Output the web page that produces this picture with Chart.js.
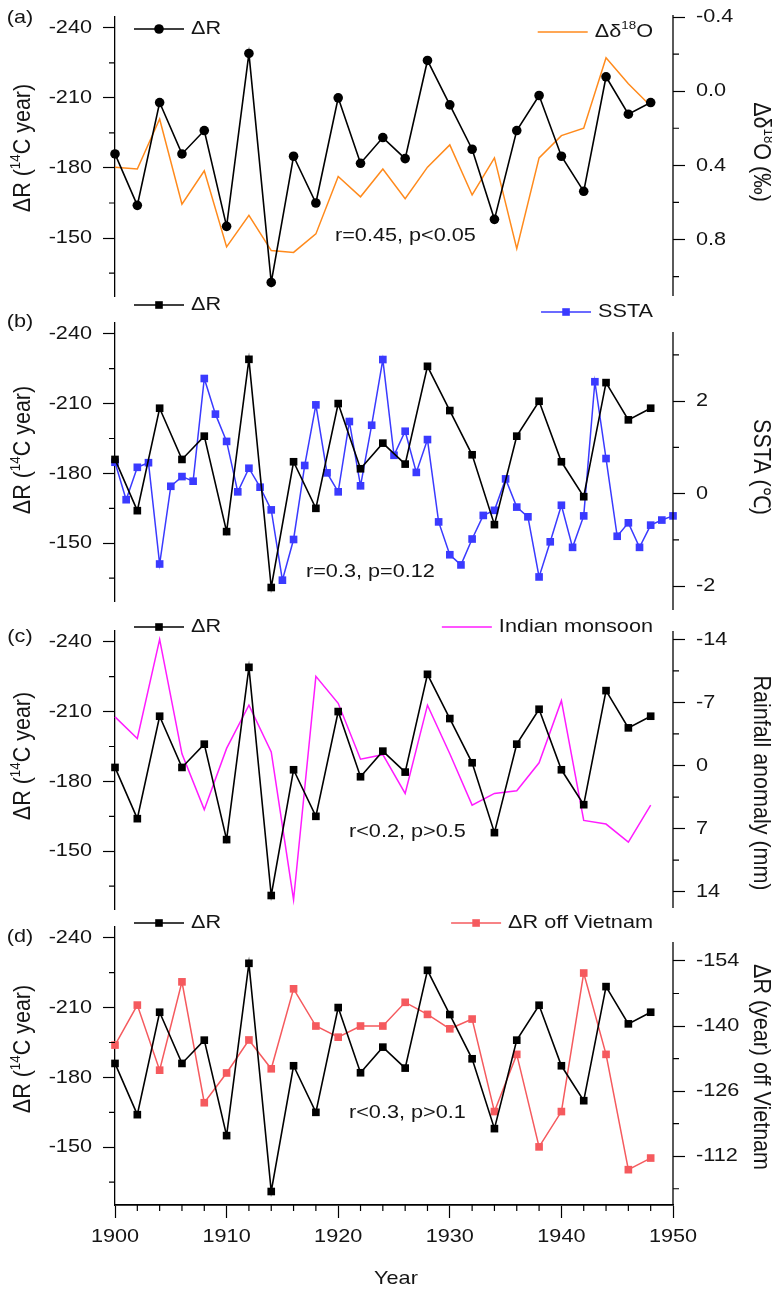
<!DOCTYPE html>
<html>
<head>
<meta charset="utf-8">
<script src="https://cdn.jsdelivr.net/npm/chart.js@4.4.1/dist/chart.umd.min.js"></script>
<style>
  html, body { margin: 0; padding: 0; background: #fff; }
  #wrap { position: relative; width: 772px; height: 1292px; }
  #wrap canvas { position: absolute; left: 0; top: 0; }
</style>
</head>
<body>
<div id="wrap">
  <canvas id="pa" width="772" height="1292"></canvas>
  <canvas id="pb" width="772" height="1292"></canvas>
  <canvas id="pc" width="772" height="1292"></canvas>
  <canvas id="pd" width="772" height="1292"></canvas>
</div>
<script>
// ---- data ----
const years = [1900, 1902, 1904, 1906, 1908, 1910, 1912, 1914, 1916, 1918, 1920, 1922, 1924,
  1926, 1928, 1930, 1932, 1934, 1936, 1938, 1940, 1942, 1944, 1946, 1948];
const deltaR = [-186, -164, -208, -186, -196, -155, -229, -131, -185, -165, -210, -182, -193,
  -184, -226, -207, -188, -158, -196, -211, -185, -170, -219, -203, -208];
const d18O = [0.41, 0.42, 0.15, 0.61, 0.43, 0.84, 0.67, 0.86, 0.87, 0.77, 0.46, 0.57, 0.42,
  0.58, 0.41, 0.29, 0.56, 0.36, 0.85, 0.36, 0.24, 0.20, -0.18, -0.04, 0.08];
const sstaYears = [1900, 1901, 1902, 1903, 1904, 1905, 1906, 1907, 1908, 1909, 1910, 1911, 1912,
  1913, 1914, 1915, 1916, 1917, 1918, 1919, 1920, 1921, 1922, 1923, 1924, 1925, 1926, 1927,
  1928, 1929, 1930, 1931, 1932, 1933, 1934, 1935, 1936, 1937, 1938, 1939, 1940, 1941, 1942,
  1943, 1944, 1945, 1946, 1947, 1948, 1949, 1950];
const ssta = [0.68, -0.13, 0.57, 0.67, -1.52, 0.16, 0.37, 0.27, 2.49, 1.72, 1.13, 0.04, 0.55,
  0.14, -0.35, -1.87, -0.99, 0.61, 1.92, 0.45, 0.04, 1.56, 0.17, 1.48, 2.90, 0.83, 1.35, 0.46,
  1.17, -0.61, -1.32, -1.54, -0.98, -0.47, -0.36, 0.32, -0.29, -0.50, -1.80, -1.04, -0.25,
  -1.16, -0.48, 2.42, 0.76, -0.92, -0.63, -1.16, -0.68, -0.57, -0.48];
const rainfall = [-5.4, -3.0, -14.0, -1.3, 4.9, -1.9, -6.7, -1.5, 14.9, -9.9, -6.9, -0.7, -1.2,
  3.1, -6.7, -1.3, 4.4, 3.1, 2.8, -0.3, -7.2, 6.1, 6.5, 8.5, 4.4];
const vietnamR = [-135.9, -144.5, -130.5, -149.5, -123.5, -129.9, -137.0, -130.8, -148.0, -140.0,
  -137.6, -140.0, -140.0, -145.1, -142.5, -139.4, -141.5, -121.6, -133.9, -114.0, -121.6,
  -151.4, -133.9, -109.1, -111.6];

const leftMajor = [-240, -210, -180, -150];
const leftMinor = [-225, -195, -165, -135];
const yearMajor = [1900, 1910, 1920, 1930, 1940, 1950];
const yearMinor = [1902, 1904, 1906, 1908, 1912, 1914, 1916, 1918, 1922, 1924, 1926, 1928,
  1932, 1934, 1936, 1938, 1942, 1944, 1946, 1948];

const FONT = '"Liberation Sans", Arial, sans-serif';
const SX = 1.14; // the figure is stretched sideways a little
const FS = 19;   // main text size

function pts(xs, ys) {
  return xs.map((x, i) => ({ x: x, y: ys[i] }));
}

function richWidth(ctx, parts, size) {
  let w = 0;
  parts.forEach(p => {
    ctx.font = (p.sup ? size * 0.62 : size) + 'px ' + FONT;
    w += ctx.measureText(p.t).width;
  });
  return w;
}

function drawRich(ctx, parts, x, y, o) {
  ctx.save();
  ctx.translate(x, y);
  if (o.rot) ctx.rotate(o.rot);
  ctx.scale(o.sx || 1, o.sy || 1);
  const w = richWidth(ctx, parts, o.size);
  let cx = o.align === 'center' ? -w / 2 : (o.align === 'right' ? -w : 0);
  ctx.fillStyle = o.color || '#151515';
  ctx.textBaseline = 'middle';
  ctx.textAlign = 'left';
  parts.forEach(p => {
    const s = p.sup ? o.size * 0.62 : o.size;
    ctx.font = s + 'px ' + FONT;
    ctx.fillText(p.t, cx, p.sup ? -o.size * 0.33 : 0);
    cx += ctx.measureText(p.t).width;
  });
  ctx.restore();
}

function marker(ctx, kind, x, y, color) {
  ctx.fillStyle = color;
  ctx.beginPath();
  if (kind === 'circle') {
    ctx.arc(x, y, 4.8, 0, Math.PI * 2);
  } else {
    ctx.rect(x - 3.8, y - 3.8, 7.6, 7.6);
  }
  ctx.fill();
}

function legendItem(ctx, lg) {
  let x0 = lg.x;
  if (lg.rightEdge) {
    const w = richWidth(ctx, lg.parts, FS) * SX;
    x0 = lg.rightEdge - w - 57;
  }
  ctx.save();
  ctx.strokeStyle = lg.color;
  ctx.lineWidth = 1.6;
  ctx.beginPath();
  ctx.moveTo(x0, lg.y);
  ctx.lineTo(x0 + 50, lg.y);
  ctx.stroke();
  if (lg.marker) marker(ctx, lg.marker, x0 + 25, lg.y, lg.color);
  ctx.restore();
  drawRich(ctx, lg.parts, x0 + 57, lg.y, { size: FS, sx: SX });
}

const decor = {
  id: 'decor',
  afterDraw(chart, args, p) {
    const ctx = chart.ctx;
    const yL = chart.scales.yL, yR = chart.scales.yR, xs = chart.scales.x;
    const area = chart.chartArea;
    ctx.save();
    ctx.strokeStyle = '#000';
    ctx.lineWidth = 1.2;
    // minor ticks
    ctx.beginPath();
    leftMinor.forEach(v => {
      const y = yL.getPixelForValue(v);
      ctx.moveTo(area.left, y); ctx.lineTo(area.left - 6, y);
    });
    p.rightMinor.forEach(v => {
      const y = yR.getPixelForValue(v);
      ctx.moveTo(area.right, y); ctx.lineTo(area.right + 6, y);
    });
    if (p.showX) {
      yearMinor.forEach(v => {
        const x = xs.getPixelForValue(v);
        ctx.moveTo(x, area.bottom); ctx.lineTo(x, area.bottom + 6);
      });
    }
    ctx.stroke();
    // right axis line
    ctx.lineWidth = 1.3;
    ctx.beginPath();
    ctx.moveTo(area.right, p.rightLine[0]);
    ctx.lineTo(area.right, p.rightLine[1]);
    ctx.stroke();
    ctx.restore();

    // tick labels
    leftMajor.forEach(v => {
      drawRich(ctx, [{ t: String(v) }], 92, yL.getPixelForValue(v), { size: FS, sx: SX, align: 'right' });
    });
    yR.ticks.forEach(t => {
      drawRich(ctx, [{ t: p.rightFmt(t.value) }], 696, yR.getPixelForValue(t.value), { size: FS, sx: SX });
    });
    if (p.showX) {
      yearMajor.forEach(v => {
        drawRich(ctx, [{ t: String(v) }], xs.getPixelForValue(v), area.bottom + 32, { size: FS, sx: SX, align: 'center' });
      });
      drawRich(ctx, [{ t: 'Year' }], 396, 1279, { size: FS, sx: SX, align: 'center' });
    }

    // panel tag, note, legends
    drawRich(ctx, [{ t: p.tag }], 20, p.tagY, { size: FS, sx: SX, align: 'center' });
    drawRich(ctx, [{ t: p.note[0] }], p.note[1], p.note[2], { size: FS, sx: SX });
    legendItem(ctx, { x: 134, y: p.legY[0], color: '#000', marker: p.drMarker, parts: [{ t: 'ΔR' }] });
    legendItem(ctx, { rightEdge: 653, y: p.legY[1], color: p.color, marker: p.s2Marker, parts: p.s2Label });

    // axis titles
    drawRich(ctx, [{ t: 'ΔR (' }, { t: '14', sup: true }, { t: 'C year)' }], 24, p.leftTitleY,
      { size: 21.5, rot: -Math.PI / 2, sy: 1.08, align: 'center' });
    drawRich(ctx, p.rightTitle, 760, p.rightTitleY,
      { size: 21.5, rot: Math.PI / 2, sy: 1.08, align: 'center' });
  }
};

function makePanel(id, p) {
  const xAxisH = p.showX ? 60 : 0;
  return new Chart(document.getElementById(id), {
    type: 'line',
    data: {
      datasets: [
        {
          label: 'ΔR',
          data: pts(years, deltaR),
          yAxisID: 'yL',
          borderColor: '#000',
          backgroundColor: '#000',
          borderWidth: 1.6,
          pointStyle: p.drMarker,
          pointRadius: p.drMarker === 'circle' ? 4.8 : 5.4,
          pointBorderWidth: 0,
          clip: false
        },
        {
          label: 'series2',
          data: pts(p.s2x, p.s2y),
          yAxisID: 'yR',
          borderColor: p.color,
          backgroundColor: p.color,
          borderWidth: 1.5,
          pointStyle: 'rect',
          pointRadius: p.s2Marker ? 5.4 : 0,
          pointBorderWidth: 0,
          clip: false
        }
      ]
    },
    options: {
      responsive: false,
      devicePixelRatio: 1,
      animation: false,
      events: [],
      layout: { padding: { left: 0, right: 0, top: p.top, bottom: 1292 - p.bottom - xAxisH } },
      scales: {
        x: {
          type: 'linear',
          min: 1900,
          max: 1950,
          display: !!p.showX,
          afterBuildTicks: s => { s.ticks = yearMajor.map(v => ({ value: v })); },
          afterFit: s => { s.height = xAxisH; },
          grid: { drawOnChartArea: false, tickLength: 13, tickColor: '#000', tickWidth: 1.2 },
          border: { color: '#000', width: 1.8 },
          ticks: { display: false }
        },
        yL: {
          type: 'linear',
          position: 'left',
          min: -244.6,
          max: -125.2,
          reverse: true,
          afterBuildTicks: s => { s.ticks = leftMajor.map(v => ({ value: v })); },
          afterFit: s => { s.width = 115; },
          grid: { drawOnChartArea: false, tickLength: 12, tickColor: '#000', tickWidth: 1.2 },
          border: { color: '#000', width: 1.3 },
          ticks: { display: false }
        },
        yR: {
          type: 'linear',
          position: 'right',
          min: p.rightRange[0],
          max: p.rightRange[1],
          reverse: p.rightReverse,
          afterBuildTicks: s => { s.ticks = p.rightMajor.map(v => ({ value: v })); },
          afterFit: s => { s.width = 99; },
          grid: { drawOnChartArea: false, tickLength: 12, tickColor: '#000', tickWidth: 1.2 },
          border: { display: false },
          ticks: { display: false }
        }
      },
      plugins: {
        legend: { display: false },
        tooltip: { enabled: false },
        decor: p
      }
    },
    plugins: [decor]
  });
}

makePanel('pa', {
  top: 17, bottom: 296,
  s2x: years, s2y: d18O, color: '#ff8a1c', s2Marker: null, drMarker: 'circle',
  s2Label: [{ t: 'Δδ' }, { t: '18', sup: true }, { t: 'O' }],
  rightRange: [-0.4, 1.105], rightReverse: true,
  rightMajor: [-0.4, 0.0, 0.4, 0.8], rightMinor: [-0.2, 0.2, 0.6, 1.0],
  rightFmt: v => v.toFixed(1), rightLine: [15, 296],
  tag: '(a)', tagY: 18, legY: [29, 32],
  note: ['r=0.45, p<0.05', 335, 236],
  leftTitleY: 148, rightTitleY: 152,
  rightTitle: [{ t: 'Δδ' }, { t: '18', sup: true }, { t: 'O (‰)' }]
});

makePanel('pb', {
  top: 323, bottom: 601,
  s2x: sstaYears, s2y: ssta, color: '#3a3aff', s2Marker: 'rect', drMarker: 'rect',
  s2Label: [{ t: 'SSTA' }],
  rightRange: [-2.32, 3.69], rightReverse: false,
  rightMajor: [-2, 0, 2], rightMinor: [-1, 1, 3],
  rightFmt: v => String(v), rightLine: [332, 610],
  tag: '(b)', tagY: 322, legY: [305, 312],
  note: ['r=0.3, p=0.12', 306, 572],
  leftTitleY: 450, rightTitleY: 467,
  rightTitle: [{ t: 'SSTA (℃)' }]
});

makePanel('pc', {
  top: 631, bottom: 909,
  s2x: years, s2y: rainfall, color: '#ff1cff', s2Marker: null, drMarker: 'rect',
  s2Label: [{ t: 'Indian monsoon' }],
  rightRange: [-14.93, 15.93], rightReverse: true,
  rightMajor: [-14, -7, 0, 7, 14], rightMinor: [-10.5, -3.5, 3.5, 10.5],
  rightFmt: v => String(v), rightLine: [631, 908],
  tag: '(c)', tagY: 637, legY: [627, 627],
  note: ['r<0.2, p>0.5', 349, 832],
  leftTitleY: 756, rightTitleY: 783,
  rightTitle: [{ t: 'Rainfall anomaly (mm)' }]
});

makePanel('pd', {
  top: 927, bottom: 1205, showX: true,
  s2x: years, s2y: vietnamR, color: '#f55a5e', s2Marker: 'rect', drMarker: 'rect',
  s2Label: [{ t: 'ΔR off Vietnam' }],
  rightRange: [-161.3, -101.5], rightReverse: true,
  rightMajor: [-154, -140, -126, -112], rightMinor: [-147, -133, -119, -105],
  rightFmt: v => String(v), rightLine: [942, 1205],
  tag: '(d)', tagY: 937, legY: [923, 923],
  note: ['r<0.3, p>0.1', 349, 1113],
  leftTitleY: 1049, rightTitleY: 1067,
  rightTitle: [{ t: 'ΔR (year) off Vietnam' }]
});
</script>
</body>
</html>
